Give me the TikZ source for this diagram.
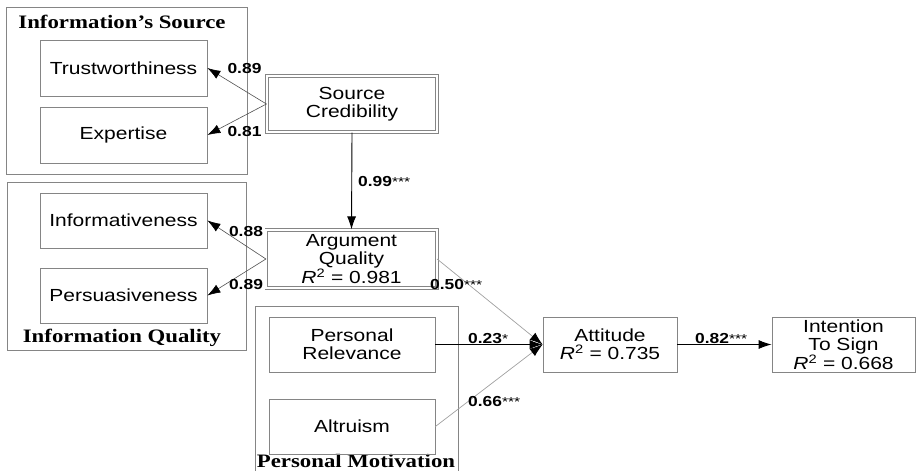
\documentclass[tikz,border=0pt]{standalone}
\usepackage{fontspec}
\setmainfont{Liberation Sans}[FakeStretch=1.2]
\newfontfamily\titlefont{Liberation Serif}[FakeStretch=1.2]
\usepackage{tikz}
\usetikzlibrary{arrows.meta}
\definecolor{frame}{HTML}{858585}
\definecolor{faintgray}{HTML}{A0A0A0}
\definecolor{loadgray}{HTML}{505050}
\newcommand{\stars}[1]{{\mdseries\fontsize{13}{13}\selectfont #1}}
\newcommand{\rsq}{\textit{R}\textsuperscript{2}}
\tikzset{
  >={Latex[length=13pt,width=9pt]},
  load/.style={-{Latex[length=13pt,width=9pt,color=black]},draw=loadgray,line width=0.6pt},
  strong/.style={->,draw=black,line width=0.9pt},
  faint/.style={-{Latex[length=13pt,width=9pt,color=black]},draw=faintgray,line width=0.7pt},
  item/.style={draw=frame,line width=0.8pt,inner sep=0pt,align=center,
    minimum width=166pt,minimum height=55pt,font=\fontsize{17.5}{18}\selectfont},
  latent/.style={item,double=white,double distance=2pt,minimum width=170.4pt},
  group/.style={draw=frame,line width=0.8pt},
  grouptitle/.style={inner sep=0pt,font=\titlefont\bfseries\fontsize{19}{19}\selectfont},
  coef/.style={inner sep=0pt,font=\bfseries\fontsize{14.5}{14.5}\selectfont}
}
\begin{document}
\begin{tikzpicture}[x=1pt,y=-1pt]
  \useasboundingbox (0,0) rectangle (916,471);
  \draw[group] (6,7) rectangle (247,174);
  \draw[group] (7,182) rectangle (246,350);
  \draw[group] (255,306) rectangle (458,490);
  \node[grouptitle] (ist) at (122,22) {Information’s Source};
  \node[grouptitle] (iqt) at (122,338) {Information Quality};
  \node[grouptitle] (pmt) at (356,461) {Personal Motivation};

  \node[item,minimum width=167pt,minimum height=56pt] (trust) at (123.5,68) {Trustworthiness};
  \node[item,minimum width=167pt,minimum height=56pt] (exp) at (123.5,135) {Expertise};
  \node[latent,minimum height=56.4pt] (sc) at (352,104) {Source\\Credibility};
  \node[item,minimum width=167pt] (info) at (123.5,220.5) {Informativeness};
  \node[item,minimum width=167pt] (pers) at (123.5,295.5) {Persuasiveness};
  \node[latent,minimum height=58.4pt] (aq) at (351.5,259) {Argument\\Quality\\\rsq{} = 0.981};
  \node[item] (rel) at (352,344.5) {Personal\\Relevance};
  \node[item] (alt) at (352,426.5) {Altruism};
  \node[item,minimum width=134pt] (att) at (610,344.5) {Attitude\\\rsq{} = 0.735};
  \node[item,minimum width=143pt] (int) at (843.5,344.5) {Intention\\To Sign\\\rsq{} = 0.668};

  \draw[load] (sc.west) -- (trust.east);
  \draw[load] (sc.west) -- (exp.east);
  \draw[strong] (sc.south) -- (aq.north);
  \draw[load] (aq.west) -- (info.east);
  \draw[load] (aq.west) -- (pers.east);
  \draw[faint] (aq.east) -- (att.west);
  \draw[strong] (rel.east) -- (att.west);
  \draw[faint] (alt.east) -- (att.west);
  \draw[strong] (att.east) -- (int.west);

  \node[coef] (w1) at (244.5,69) {0.89};
  \node[coef] (w2) at (244.5,132) {0.81};
  \node[coef,anchor=west] (w3) at (358,182) {0.99\stars{***}};
  \node[coef] (w4) at (246,232) {0.88};
  \node[coef] (w5) at (246,285) {0.89};
  \node[coef,anchor=west] (w6) at (430,285) {0.50\stars{***}};
  \node[coef,anchor=west] (w7) at (468,339) {0.23\stars{*}};
  \node[coef,anchor=west] (w8) at (468,402) {0.66\stars{***}};
  \node[coef,anchor=west] (w9) at (695,339) {0.82\stars{***}};
\end{tikzpicture}
\end{document}
